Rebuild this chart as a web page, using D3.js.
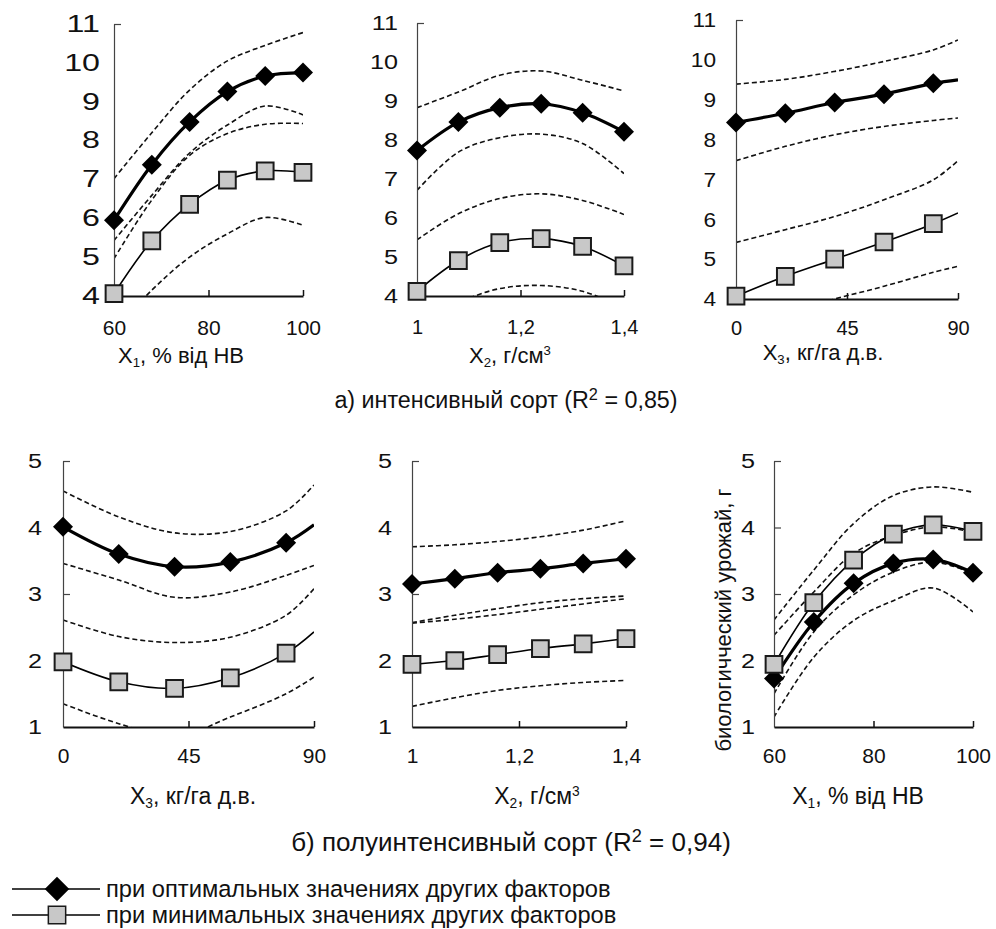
<!DOCTYPE html>
<html>
<head>
<meta charset="utf-8">
<script src="https://cdn.jsdelivr.net/npm/d3@7"></script>
<style>
  body { margin: 0; background: #fff; }
  svg { display: block; }
  text { font-family: "Liberation Sans", Arial, sans-serif; fill: #111; }
</style>
</head>
<body>
<svg id="chart" width="996" height="929"></svg>
<script>
// values

// а) интенсивный сорт
const aX1 = [60, 68, 76, 84, 92, 100]
const aX1Opt = [5.95, 7.38, 8.48, 9.26, 9.66, 9.75]
const aX1Min = [4.06, 5.42, 6.36, 6.98, 7.22, 7.18]
const aX1Bands = [
  [7.02, 8.2, 9.3, 10.05, 10.45, 10.78],
  [5.43, 6.59, 7.68, 8.4, 8.89, 8.66],
  [4.96, 6.47, 7.62, 8.18, 8.42, 8.44],
  [3.1, 4.15, 5.0, 5.6, 6.02, 5.82]
]

const aX2 = [1, 1.08, 1.16, 1.24, 1.32, 1.4]
const aX2Opt = [7.73, 8.46, 8.83, 8.93, 8.7, 8.21]
const aX2Min = [4.12, 4.91, 5.37, 5.47, 5.27, 4.77]
const aX2Bands = [
  [8.83, 9.23, 9.66, 9.77, 9.53, 9.26],
  [6.71, 7.69, 8.06, 8.15, 7.91, 7.14],
  [5.44, 6.11, 6.5, 6.62, 6.45, 6.09],
  [3.45, 3.85, 4.19, 4.27, 4.12, 3.7]
]

const aX3 = [0, 20, 40, 60, 80, 90]
const aX3Opt = [8.43, 8.66, 8.93, 9.14, 9.41, 9.5]
const aX3Min = [4.07, 4.57, 5.0, 5.43, 5.89, 6.16]
const aX3Bands = [
  [9.39, 9.51, 9.71, 9.96, 10.25, 10.5],
  [7.47, 7.83, 8.12, 8.33, 8.48, 8.54],
  [5.42, 5.74, 6.07, 6.49, 6.99, 7.47],
  [3.3, 3.65, 4.0, 4.32, 4.67, 4.82]
]

// б) полуинтенсивный сорт
const bX3 = [0, 20, 40, 60, 80, 90]
const bX3Opt = [4.01, 3.6, 3.41, 3.48, 3.77, 4.04]
const bX3Min = [1.98, 1.68, 1.58, 1.74, 2.11, 2.43]
const bX3Bands = [
  [4.55, 4.16, 3.92, 3.94, 4.25, 4.64],
  [3.46, 3.21, 2.95, 3.03, 3.28, 3.43],
  [2.61, 2.36, 2.27, 2.35, 2.68, 3.08],
  [1.35, 1.05, 0.85, 1.15, 1.5, 1.75]
]

const bX2 = [1, 1.08, 1.16, 1.24, 1.32, 1.4]
const bX2Opt = [3.15, 3.23, 3.32, 3.38, 3.46, 3.53]
const bX2Min = [1.94, 2.0, 2.09, 2.18, 2.25, 2.33]
const bX2Bands = [
  [3.71, 3.74, 3.79, 3.86, 3.96, 4.1],
  [2.57, 2.68, 2.78, 2.87, 2.93, 2.97],
  [2.56, 2.62, 2.69, 2.77, 2.85, 2.93],
  [1.31, 1.44, 1.55, 1.62, 1.67, 1.7]
]

const bX1 = [60, 68, 76, 84, 92, 100]
const bX1Opt = [1.73, 2.58, 3.16, 3.46, 3.52, 3.32]
const bX1Min = [1.94, 2.87, 3.51, 3.9, 4.04, 3.94]
const bX1Bands = [
  [2.61, 3.36, 4.06, 4.48, 4.61, 4.53],
  [2.38, 3.03, 3.61, 3.88, 4.01, 3.93],
  [1.5, 2.43, 2.99, 3.33, 3.48, 3.31],
  [1.15, 2.05, 2.6, 2.9, 3.09, 2.73]
]

const topYTicks = [4, 5, 6, 7, 8, 9, 10, 11]
const botYTicks = [1, 2, 3, 4, 5]
const ticksX1 = [60, 80, 100]
const ticksX2 = [1, 1.2, 1.4]
const ticksX3 = [0, 45, 90]

const titleX1 = ['X', '1', ', % від НВ', '']
const titleX2 = ['X', '2', ', г/см', '3']
const titleX3 = ['X', '3', ', кг/га д.в.', '']

const captionA = ['а) интенсивный сорт (R', '2', ' = 0,85)']
const captionB = ['б) полуинтенсивный сорт (R', '2', ' = 0,94)']
const legendLabels = ['при оптимальных значениях других факторов', 'при минимальных значениях других факторов']
const yTitle = 'биологичческий урожай, г'

const svg = d3.select('#chart')

const panels = [
  { xs: aX1, opt: aX1Opt, min: aX1Min, bands: aX1Bands, xd: [60, 100], yd: [4, 11], yt: topYTicks, yin: [11], xt: ticksX1,
    l: 114, r: 303, t: 24, b: 296, title: titleX1, tx: 181, ty: 363, marks: 6, fs: 21, yfs: 23, ysx: 1.4, ypad: 14, xpad: 24, tfs: 22 },
  { xs: aX2, opt: aX2Opt, min: aX2Min, bands: aX2Bands, xd: [1, 1.4], yd: [4, 11], yt: topYTicks, yin: [11], xt: ticksX2,
    l: 417, r: 624, t: 23, b: 296, title: titleX2, tx: 510, ty: 363, marks: 6, fs: 20, yfs: 21, ysx: 1.2, ypad: 19, xpad: 24, tfs: 22 },
  { xs: aX3, opt: aX3Opt, min: aX3Min, bands: aX3Bands, xd: [0, 90], yd: [4, 11], yt: topYTicks, yin: [11], xt: ticksX3,
    l: 736, r: 958, t: 20, b: 299, title: titleX3, tx: 823, ty: 360, marks: 5, fs: 20, yfs: 21, ysx: 1.08, ypad: 20, xpad: 22, tfs: 22 },
  { xs: bX3, opt: bX3Opt, min: bX3Min, bands: bX3Bands, xd: [0, 90], yd: [1, 5], yt: botYTicks, yin: [3, 5], xt: ticksX3,
    l: 63, r: 314, t: 461, b: 727, title: titleX3, tx: 193, ty: 804, marks: 5, fs: 21, yfs: 21, ysx: 1.2, ypad: 21, xpad: 21, tfs: 23 },
  { xs: bX2, opt: bX2Opt, min: bX2Min, bands: bX2Bands, xd: [1, 1.4], yd: [1, 5], yt: botYTicks, yin: [3, 5], xt: ticksX2,
    l: 412, r: 626, t: 461, b: 727, title: titleX2, tx: 537, ty: 804, marks: 6, fs: 21, yfs: 21, ysx: 1.2, ypad: 20, xpad: 21, tfs: 23 },
  { xs: bX1, opt: bX1Opt, min: bX1Min, bands: bX1Bands, xd: [60, 100], yd: [1, 5], yt: botYTicks, yin: [3, 4, 5], xt: ticksX1,
    l: 774, r: 973, t: 461, b: 727, title: titleX1, tx: 858, ty: 804, marks: 6, fs: 21, yfs: 21, ysx: 1.2, ypad: 19, xpad: 21, tfs: 23 }
]

let fmt = v => String(v).replace('.', ',')
let diamond = d3.symbol(d3.symbolSquare, 200)()
let square = d3.symbol(d3.symbolSquare, 280)()

// the source figure has its tick digits stretched sideways
function widen(texts, sx) {
  texts.each(function () {
    let x0 = +this.getAttribute('x') || 0
    d3.select(this).attr('x', x0 / sx).attr('transform', `scale(${sx},1)`)
  })
}

function drawPanel(p, i) {
  let x = d3.scaleLinear().domain(p.xd).range([p.l, p.r])
  let y = d3.scaleLinear().domain(p.yd).range([p.b, p.t])
  let g = svg.append('g')

  g.append('clipPath').attr('id', 'clip' + i)
    .append('rect')
      .attr('x', p.l).attr('y', p.t)
      .attr('width', p.r - p.l).attr('height', p.b - p.t)

  let line = d3.line()
      .x((d, j) => x(p.xs[j]))
      .y(d => y(d))
      .curve(d3.curveCatmullRom)

  let plot = g.append('g').attr('clip-path', `url(#clip${i})`)

  plot.selectAll('path.band')
    .data(p.bands)
    .join('path')
      .attr('class', 'band')
      .attr('d', line)
      .attr('fill', 'none')
      .attr('stroke', '#111')
      .attr('stroke-width', 1.6)
      .attr('stroke-dasharray', '5,3')

  // y axis with labels
  g.append('g')
      .attr('transform', `translate(${p.l},0)`)
      .call(d3.axisLeft(y).tickValues(p.yt).tickSize(0).tickPadding(p.ypad).tickSizeOuter(0).tickFormat(fmt))
      .call(a => a.select('.domain').attr('stroke', '#444').attr('stroke-width', 1.2))
      .call(a => a.selectAll('text').attr('font-size', p.yfs).attr('font-family', '"Liberation Sans", Arial, sans-serif').attr('fill', '#111'))
      .call(a => widen(a.selectAll('text'), p.ysx))

  g.append('g')
      .attr('transform', `translate(${p.l},0)`)
      .call(d3.axisRight(y).tickValues(p.yin).tickSize(7).tickFormat(''))
      .call(a => a.select('.domain').remove())
      .call(a => a.selectAll('line').attr('stroke', '#444').attr('stroke-width', 1.2))

  // x axis with labels
  g.append('g')
      .attr('transform', `translate(0,${p.b})`)
      .call(d3.axisBottom(x).tickValues(p.xt).tickSize(0).tickPadding(p.xpad).tickSizeOuter(0).tickFormat(fmt))
      .call(a => a.select('.domain').attr('stroke', '#111').attr('stroke-width', 2))
      .call(a => a.selectAll('text').attr('font-size', p.fs).attr('font-family', '"Liberation Sans", Arial, sans-serif').attr('fill', '#111'))

  g.append('g')
      .attr('transform', `translate(0,${p.b})`)
      .call(d3.axisTop(x).tickValues(p.xt.slice(1)).tickSize(6).tickFormat(''))
      .call(a => a.select('.domain').remove())
      .call(a => a.selectAll('line').attr('stroke', '#111').attr('stroke-width', 1.5))

  // optimum series (diamonds)
  plot.append('path')
      .attr('d', line(p.opt))
      .attr('fill', 'none')
      .attr('stroke', '#000')
      .attr('stroke-width', 3.2)

  g.append('g')
    .selectAll('path')
    .data(p.opt.slice(0, p.marks))
    .join('path')
      .attr('d', diamond)
      .attr('transform', (d, j) => `translate(${x(p.xs[j])},${y(d)}) rotate(45)`)
      .attr('fill', '#000')

  // minimum series (squares)
  plot.append('path')
      .attr('d', line(p.min))
      .attr('fill', 'none')
      .attr('stroke', '#000')
      .attr('stroke-width', 1.6)

  g.append('g')
    .selectAll('path')
    .data(p.min.slice(0, p.marks))
    .join('path')
      .attr('d', square)
      .attr('transform', (d, j) => `translate(${x(p.xs[j])},${y(d)})`)
      .attr('fill', '#c8c8c8')
      .attr('stroke', '#1a1a1a')
      .attr('stroke-width', 2)

  // axis title
  let t = g.append('text')
      .attr('x', p.tx).attr('y', p.ty)
      .attr('text-anchor', 'middle')
      .attr('font-size', p.tfs)
  t.append('tspan').text(p.title[0])
  t.append('tspan').text(p.title[1]).attr('font-size', p.tfs * 0.6).attr('dy', 4)
  t.append('tspan').text(p.title[2]).attr('dy', -4)
  if (p.title[3]) t.append('tspan').text(p.title[3]).attr('font-size', p.tfs * 0.6).attr('dy', -8)
}

panels.forEach(drawPanel)

// y title of the last panel
svg.append('text')
    .attr('transform', 'translate(731,620) rotate(-90)')
    .attr('text-anchor', 'middle')
    .attr('font-size', 22)
    .text(yTitle)

// captions
function caption(parts, cx, cy, size) {
  let t = svg.append('text')
      .attr('x', cx).attr('y', cy)
      .attr('text-anchor', 'middle')
      .attr('font-size', size)
  t.append('tspan').text(parts[0])
  t.append('tspan').text(parts[1]).attr('font-size', size * 0.7).attr('dy', -size * 0.35)
  t.append('tspan').text(parts[2]).attr('dy', size * 0.35)
}
caption(captionA, 506, 408, 23.3)
caption(captionB, 511, 851, 26)

// legend
let legend = svg.append('g')
legendLabels.forEach((label, i) => {
  let ly = 889 + i * 26
  legend.append('line')
      .attr('x1', 12).attr('x2', 100)
      .attr('y1', ly).attr('y2', ly)
      .attr('stroke', '#000').attr('stroke-width', 1.5)
  legend.append('path')
      .attr('d', d3.symbol(d3.symbolSquare, 300)())
      .attr('transform', i === 0 ? `translate(57,${ly}) rotate(45)` : `translate(57,${ly})`)
      .attr('fill', i === 0 ? '#000' : '#c8c8c8')
      .attr('stroke', i === 0 ? 'none' : '#1a1a1a')
      .attr('stroke-width', 1.5)
  legend.append('text')
      .attr('x', 106).attr('y', ly + 8)
      .attr('font-size', 23.7)
      .text(label)
})
</script>
</body>
</html>
